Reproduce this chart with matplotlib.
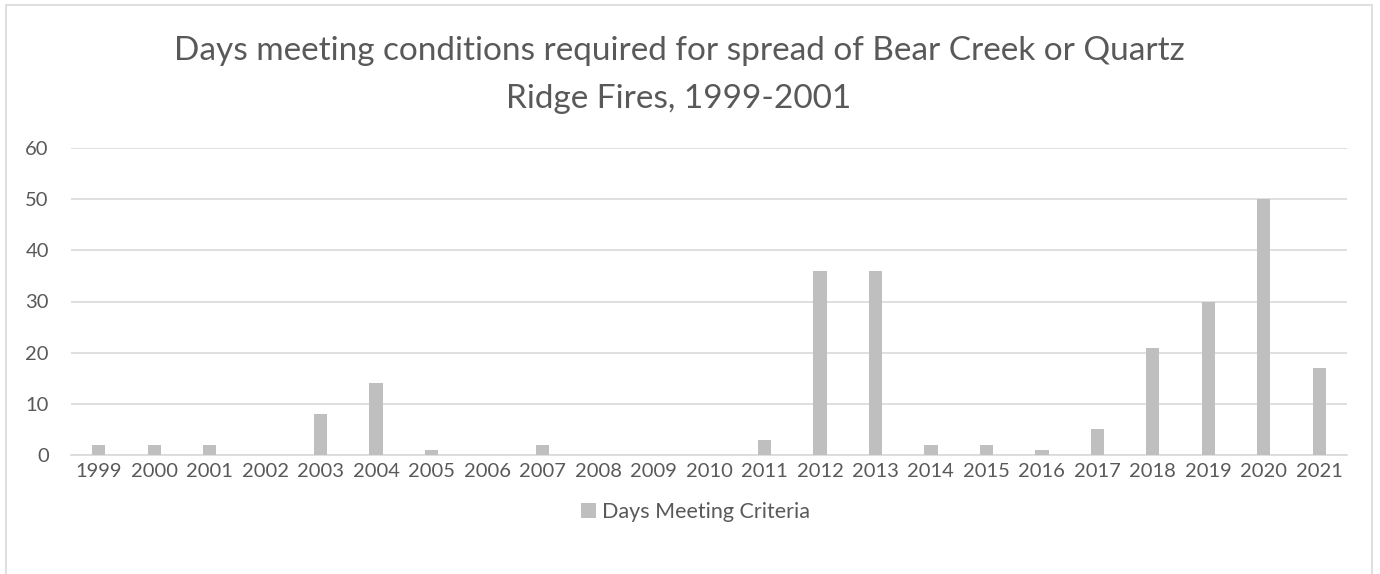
import matplotlib.pyplot as plt
from matplotlib.patches import Rectangle

years = [str(y) for y in range(1999, 2022)]
days = [2, 2, 2, 0, 8, 14, 1, 0, 2, 0, 0, 0, 3, 36, 36, 2, 2, 1, 5, 21, 30, 50, 17]

plt.rcParams['font.family'] = ['Lato', 'DejaVu Sans']
text_color = '#595959'

fig = plt.figure(figsize=(13.8, 5.74), dpi=100)
ax = fig.add_axes([71 / 1380, 1 - 455 / 574, (1347 - 71) / 1380, (455 - 148) / 574])

ax.bar(years, days, width=0.24, color='#BFBFBF', label='Days Meeting Criteria', zorder=3)
ax.set_ylim(0, 60)
ax.set_xlim(-0.5, len(years) - 0.5)
ax.set_yticks(range(0, 61, 10))
ax.grid(axis='y', color='#D9D9D9', linewidth=1.2, zorder=0)
for s in ['top', 'right', 'left']:
    ax.spines[s].set_visible(False)
ax.spines['bottom'].set_color('#D9D9D9')
ax.spines['bottom'].set_linewidth(1.2)
ax.tick_params(length=0, labelsize=14.5, colors=text_color)
ax.tick_params(axis='x', pad=6)
ax.tick_params(axis='y', pad=16)

fig.text(0.492, 0.912, 'Days meeting conditions required for spread of Bear Creek or Quartz',
         ha='center', va='center', fontsize=24, color=text_color)
fig.text(0.492, 0.828, 'Ridge Fires, 1999-2001', ha='center', va='center', fontsize=24, color=text_color)

fig.legend(loc='center', bbox_to_anchor=(0.504, 1 - 512 / 574), frameon=False,
           fontsize=15.5, labelcolor=text_color, handlelength=0.7, handleheight=0.7,
           handletextpad=0.3)

fig.patches.append(Rectangle((6 / 1380, -0.1), (1372 - 6) / 1380, 1.1 - 5 / 574,
                             transform=fig.transFigure, fill=False,
                             edgecolor='#D9D9D9', linewidth=1.2))

fig.savefig('out.png', dpi=100)
